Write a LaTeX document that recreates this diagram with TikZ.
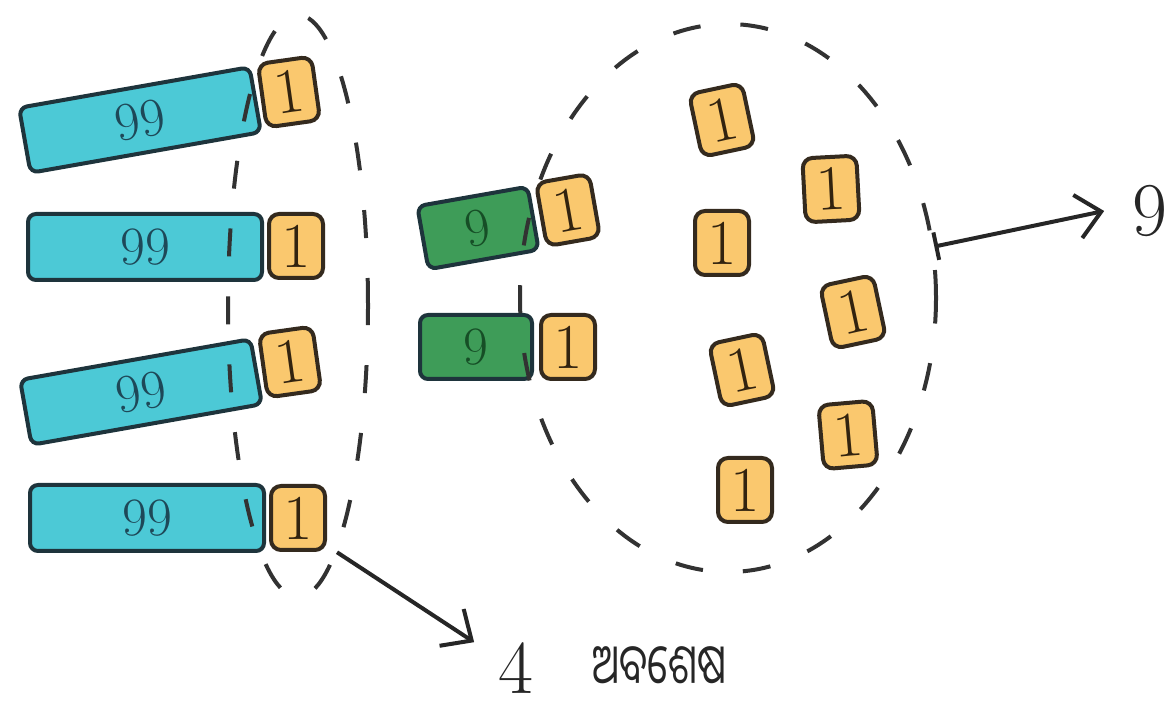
\documentclass[tikz,border=0pt]{standalone}
\usepackage{fontspec}
\usepackage{tikz}
\usetikzlibrary{arrows.meta, shapes.geometric}
\usepackage{xcolor}
\newfontfamily\odiafont[Script=Oriya]{Noto Sans Oriya UI}

\definecolor{barCyan}{RGB}{76,201,214}
\definecolor{barGreen}{RGB}{62,156,88}
\definecolor{barEdge}{RGB}{30,52,60}
\definecolor{cyanText}{RGB}{30,72,88}
\definecolor{greenText}{RGB}{22,78,38}
\definecolor{tileOrange}{RGB}{250,200,110}
\definecolor{tileEdge}{RGB}{52,42,30}
\definecolor{tileText}{RGB}{50,35,15}
\definecolor{ringGray}{RGB}{50,50,50}

\begin{document}
\begin{tikzpicture}[
  x=0.5pt, y=-0.5pt,
  valueBar/.style={rounded corners=4pt, draw=barEdge, line width=2pt, fill=barCyan, text=cyanText, inner sep=0pt, minimum width=117pt, minimum height=33pt, font=\fontsize{27}{29}\selectfont},
  valueBarSmall/.style={valueBar, fill=barGreen, text=greenText, minimum width=56pt, minimum height=32pt},
  tile/.style={rounded corners=5pt, draw=tileEdge, line width=2pt, fill=tileOrange, text=tileText, inner sep=0pt, minimum width=27pt, minimum height=32pt, font=\fontsize{32}{34}\selectfont},
  ring/.style={ellipse, draw=ringGray, line width=2pt, dash pattern=on 14pt off 20pt, inner sep=0pt},
  outArrow/.style={{Bar[width=14pt]}-{Straight Barb[length=12pt, width=22pt]}, draw=black!85, line width=2pt},
  outArrowPlain/.style={-{Straight Barb[length=12pt, width=22pt]}, draw=black!85, line width=2pt},
  result/.style={inner ysep=0pt, font=\fontsize{38}{40}\selectfont, text=black!85}
]
\useasboundingbox (0,0) rectangle (1167,715);

% Rangée gauche : 99 + 1
\node[valueBar, rotate=10] (bar1) at (140,120) {99};
\node[valueBar]            (bar2) at (145,247) {99};
\node[valueBar, rotate=10] (bar3) at (141,392) {99};
\node[valueBar]            (bar4) at (147,518) {99};

% Milieu : 9 + 1
\node[valueBarSmall, rotate=10] (nine1) at (478,228) {9};
\node[valueBarSmall]            (nine2) at (476,347) {9};

% Groupes (pointillé)
\node[ring, minimum width=70pt, minimum height=291pt] (leftSet) at (298,306) {};
\node[ring, minimum width=208pt, minimum height=274pt] (rightSet) at (728,298) {};

% Les unités
\node[tile, rotate=8] (one1) at (289,92) {1};
\node[tile]           (one2) at (296,246) {1};
\node[tile, rotate=8] (one3) at (290,362) {1};
\node[tile]           (one4) at (298,518) {1};
\node[tile, rotate=10] (oneG1) at (568,210) {1};
\node[tile]            (oneG2) at (568,347) {1};

\node[tile, rotate=12] (oneA) at (722,120) {1};
\node[tile, rotate=3]  (oneB) at (831,189) {1};
\node[tile]            (oneC) at (722,243) {1};
\node[tile, rotate=12] (oneD) at (853,312) {1};
\node[tile, rotate=12] (oneE) at (742,370) {1};
\node[tile, rotate=5]  (oneF) at (848,435) {1};
\node[tile]            (oneG) at (745,490) {1};

% Résultats
\node[result, inner xsep=12pt] (four) at (516,668) {4};
\node[result, font=\fontsize{23}{26}\odiafont, anchor=west, inner xsep=0pt] (rest) at (592,668) {\scalebox{0.85}[1.2]{ଅବଶେଷ}};
\node[result, inner xsep=14pt] (nine) at (1150,211) {9};

\draw[outArrowPlain] (leftSet.-81.5) -- (four.north west);
\draw[outArrow] (rightSet.14) -- (nine.west);
\end{tikzpicture}
\end{document}
